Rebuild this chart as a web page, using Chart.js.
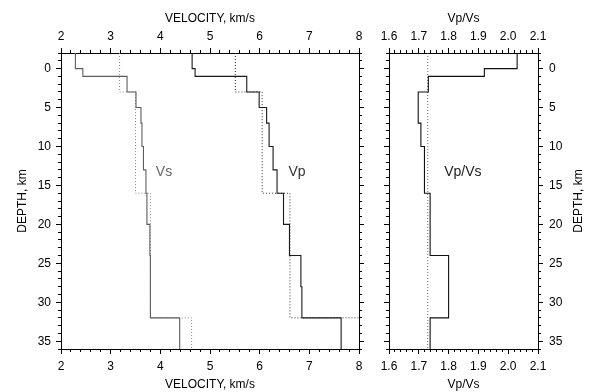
<!DOCTYPE html>
<html>
<head>
<meta charset="utf-8">
<script src="https://cdn.jsdelivr.net/npm/chart.js@4.4.1/dist/chart.umd.min.js"></script>
<style>
html,body{margin:0;padding:0;background:#fff;}
#wrap{position:relative;width:589px;height:392px;overflow:hidden;background:#fff;}
#c1{position:absolute;left:0;top:0;}
#c2{position:absolute;left:372px;top:0;}
</style>
</head>
<body>
<div id="wrap">
<canvas id="c1" width="372" height="392"></canvas>
<canvas id="c2" width="217" height="392"></canvas>
</div>
<script>
// ---- data (layer tops in km, values) ----
const depthMin = -2, depthMax = 36;
const vsDepthTops = [-2, 0, 1, 3, 5, 7, 10, 13, 16, 20, 24, 32];
const vsValues    = [2.29, 2.44, 3.33, 3.51, 3.61, 3.63, 3.66, 3.71, 3.73, 3.79, 3.80, 4.39];
const vpDepthTops = [-2, 0, 1, 3, 5, 7, 10, 13, 16, 20, 24, 28, 32];
const vpValues    = [4.64, 4.70, 5.74, 5.99, 6.14, 6.19, 6.27, 6.35, 6.48, 6.60, 6.83, 6.85, 7.64];
const vsRefDepthTops = [-2, 3, 16, 32];
const vsRefValues    = [3.18, 3.50, 3.80, 4.63];
const vpRefDepthTops = [-2, 3, 16, 32];
const vpRefValues    = [5.51, 6.05, 6.61, 8.05];
const ratioDepthTops = [-2, 0, 1, 3, 7, 10, 16, 24, 32];
const ratioValues    = [2.03, 1.92, 1.732, 1.698, 1.707, 1.719, 1.738, 1.80, 1.738];
const ratioRefDepthTops = [-2];
const ratioRefValues    = [1.73];
const velocityTicks = [2, 3, 4, 5, 6, 7, 8];
const ratioTicks    = [1.6, 1.7, 1.8, 1.9, 2.0, 2.1];
const depthTicks    = [0, 5, 10, 15, 20, 25, 30, 35];

// ---- helpers ----
function profile(tops, vals) {
  const pts = [];
  for (let i = 0; i < tops.length; i++) {
    const bot = i + 1 < tops.length ? tops[i + 1] : depthMax;
    pts.push({x: vals[i], y: tops[i]});
    pts.push({x: vals[i], y: bot});
  }
  return pts;
}
function minorList(start, step, n) {
  const out = [];
  for (let i = 0; i <= n; i++) if (i % 5 !== 0) out.push(start + i * step);
  return out;
}
const depthMinor = (() => { const o = []; for (let d = depthMin; d <= depthMax; d++) if (d % 5 !== 0) o.push(d); return o; })();
const velMinor = minorList(2, 0.2, 30);
const ratioMinor = minorList(1.6, 0.02, 25);

const FONT = {family: '"Liberation Sans", Arial, Helvetica, sans-serif', size: 12};
const INK = '#000';

function majorAxis(pos, min, max, ticks, o) {
  const vert = pos === 'left' || pos === 'right';
  return {
    type: 'linear', position: pos, min: min, max: max, reverse: !!o.reverse, weight: 1,
    afterBuildTicks: s => { s.ticks = ticks.map(v => ({value: v})); },
    afterFit: s => { if (vert) s.width = o.size; else s.height = o.size; },
    grid: {display: true, drawOnChartArea: false, drawTicks: true, tickLength: 5, tickColor: INK, tickWidth: 1, color: INK},
    border: {display: true, color: INK, width: 1},
    ticks: {display: !!o.labels, autoSkip: false, maxRotation: 0, minRotation: 0, padding: o.pad || 0,
            color: INK, font: FONT, callback: o.fmt || (v => String(v))},
    title: o.title ? {display: true, text: o.title, color: INK, font: FONT, padding: o.titlePad} : {display: false}
  };
}
function minorAxis(pos, min, max, ticks, reverse) {
  const vert = pos === 'left' || pos === 'right';
  return {
    type: 'linear', position: pos, min: min, max: max, reverse: !!reverse, weight: 0,
    afterBuildTicks: s => { s.ticks = ticks.map(v => ({value: v})); },
    afterFit: s => { if (vert) s.width = 0; else s.height = 0; },
    grid: {display: true, drawOnChartArea: false, drawTicks: true, tickLength: 3, tickColor: INK, tickWidth: 1},
    border: {display: false},
    ticks: {display: false, autoSkip: false},
    title: {display: false}
  };
}
function line(data, color, dotted, w) {
  return {data: data, showLine: true, pointRadius: 0, borderColor: color, backgroundColor: color,
          borderWidth: w || 1, borderDash: dotted ? [1, 2] : [], fill: false, tension: 0};
}

const textPlugin = {
  id: 'inlineText',
  afterDatasetsDraw(chart, args, opts) {
    const ctx = chart.ctx, xs = chart.scales.x, ys = chart.scales.y;
    ctx.save();
    (opts.items || []).forEach(it => {
      ctx.font = '14px "Liberation Sans", Arial, sans-serif';
      ctx.fillStyle = it.color;
      ctx.textAlign = 'left';
      ctx.textBaseline = 'middle';
      ctx.fillText(it.text, xs.getPixelForValue(it.x), ys.getPixelForValue(it.y));
    });
    ctx.restore();
  }
};
const rightTitlePlugin = {
  id: 'rightTitle',
  afterDraw(chart, args, opts) {
    if (!opts.text) return;
    const ctx = chart.ctx, s = chart.scales.yR, a = chart.chartArea;
    ctx.save();
    ctx.translate(s.right - opts.offset, (a.top + a.bottom) / 2);
    ctx.rotate(-Math.PI / 2);
    ctx.font = '12px "Liberation Sans", Arial, sans-serif';
    ctx.fillStyle = INK;
    ctx.textAlign = 'center';
    ctx.textBaseline = 'middle';
    ctx.fillText(opts.text, 0, 0);
    ctx.restore();
  }
};

const common = {
  responsive: false, animation: false, devicePixelRatio: 1, events: [],
  layout: {padding: 0}
};

// ---- left panel: velocities ----
new Chart(document.getElementById('c1'), {
  type: 'scatter',
  data: {datasets: [
    line(profile(vpDepthTops, vpValues), '#1a1a1a', false, 1.1),
    line(profile(vsDepthTops, vsValues), '#5e5e5e', false, 1.1),
    line(profile(vpRefDepthTops, vpRefValues), '#333', true, 1),
    line(profile(vsRefDepthTops, vsRefValues), '#888', true, 1)
  ]},
  options: Object.assign({}, common, {
    plugins: {legend: {display: false}, tooltip: {enabled: false},
      inlineText: {items: [
        {text: 'Vs', x: 3.91, y: 13.3, color: '#666'},
        {text: 'Vp', x: 6.58, y: 13.3, color: '#333'}
      ]}},
    scales: {
      x: majorAxis('bottom', 2, 8, velocityTicks, {size: 43, labels: true, pad: 5, title: 'VELOCITY, km/s', titlePad: {top: 0, bottom: 0}}),
      xm: minorAxis('bottom', 2, 8, velMinor),
      xT: majorAxis('top', 2, 8, velocityTicks, {size: 53, labels: true, pad: 4, title: 'VELOCITY, km/s', titlePad: {top: 11, bottom: 0}}),
      xTm: minorAxis('top', 2, 8, velMinor),
      y: majorAxis('left', depthMin, depthMax, depthTicks, {reverse: true, size: 61, labels: true, pad: 5, title: 'DEPTH, km', titlePad: {top: 15, bottom: 0}}),
      ym: minorAxis('left', depthMin, depthMax, depthMinor, true),
      yR: majorAxis('right', depthMin, depthMax, depthTicks, {reverse: true, size: 13, labels: false}),
      yRm: minorAxis('right', depthMin, depthMax, depthMinor, true)
    }
  }),
  plugins: [textPlugin]
});

// ---- right panel: Vp/Vs ----
new Chart(document.getElementById('c2'), {
  type: 'scatter',
  data: {datasets: [
    line(profile(ratioDepthTops, ratioValues), '#111', false, 1.1),
    line(profile(ratioRefDepthTops, ratioRefValues), '#666', true, 1)
  ]},
  options: Object.assign({}, common, {
    plugins: {legend: {display: false}, tooltip: {enabled: false},
      inlineText: {items: [{text: 'Vp/Vs', x: 1.785, y: 13.3, color: '#222'}]},
      rightTitle: {text: 'DEPTH, km', offset: 10}},
    scales: {
      x: majorAxis('bottom', 1.6, 2.1, ratioTicks, {size: 43, labels: true, pad: 5, fmt: v => Number(v).toFixed(1), title: 'Vp/Vs', titlePad: {top: 0, bottom: 0}}),
      xm: minorAxis('bottom', 1.6, 2.1, ratioMinor),
      xT: majorAxis('top', 1.6, 2.1, ratioTicks, {size: 53, labels: true, pad: 4, fmt: v => Number(v).toFixed(1), title: 'Vp/Vs', titlePad: {top: 11, bottom: 0}}),
      xTm: minorAxis('top', 1.6, 2.1, ratioMinor),
      y: majorAxis('left', depthMin, depthMax, depthTicks, {reverse: true, size: 17, labels: false}),
      ym: minorAxis('left', depthMin, depthMax, depthMinor, true),
      yR: majorAxis('right', depthMin, depthMax, depthTicks, {reverse: true, size: 51, labels: true, pad: 6}),
      yRm: minorAxis('right', depthMin, depthMax, depthMinor, true)
    }
  }),
  plugins: [textPlugin, rightTitlePlugin]
});
</script>
</body>
</html>
